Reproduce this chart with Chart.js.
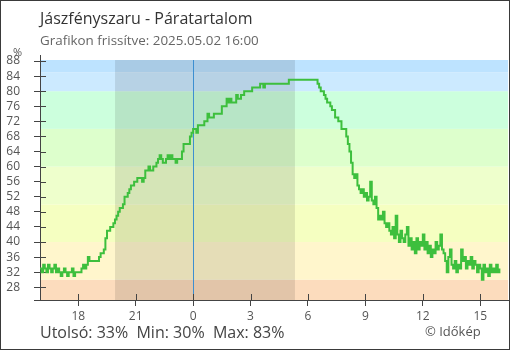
<!DOCTYPE html>
<html lang="hu">
<head>
<meta charset="utf-8">
<title>Jászfényszaru - Páratartalom</title>
<script src="https://cdn.jsdelivr.net/npm/chart.js@4/dist/chart.umd.min.js"></script>
<style>
  html, body { margin: 0; padding: 0; background: #fff; }
  #wrap {
    position: relative; width: 510px; height: 350px; overflow: hidden;
    font-family: "Open Sans", "Noto Sans", sans-serif;
  }
  #frame {
    position: absolute; left: 0; top: 0; width: 510px; height: 350px;
    box-sizing: border-box; border: 1px solid #3a3a3a; pointer-events: none;
  }
  #chart { position: absolute; left: 0; top: 0; }
  .txt { position: absolute; white-space: nowrap; line-height: 1; }
  #title { left: 40px; top: 10px; font-size: 16px; color: #333; }
  #sub { left: 40px; top: 34px; font-size: 13.4px; color: #666; }
  #unit { left: 13px; top: 46px; font-size: 11px; color: #555; }
  #stats { left: 40px; top: 324px; font-size: 16px; color: #444; }
  #copy { left: 425px; top: 325px; font-size: 13px; color: #555; }
</style>
</head>
<body>
<div id="wrap">
  <canvas id="chart" width="510" height="350"></canvas>
  <div class="txt" id="title">Jászfényszaru - Páratartalom</div>
  <div class="txt" id="sub">Grafikon frissítve: 2025.05.02 16:00</div>
  <div class="txt" id="unit">%</div>
  <div class="txt" id="stats"></div>
  <div class="txt" id="copy">© Időkép</div>
  <div id="frame"></div>
</div>
<script>
// Relative humidity (%) every 5 minutes, from 16:00 yesterday to 16:00 today.
// Hours are counted from midnight, so yesterday 16:00 is -8.
const startHour = -8;
const stepMinutes = 5;
const humidity = [
  33,32,34,33,32,34,33,32,33,34,32,33,   // 16:00
  32,31,32,33,32,31,32,32,33,31,32,32,   // 17:00
  32,32,33,34,33,34,36,35,35,35,35,35,   // 18:00
  35,36,37,37,38,41,43,43,44,44,45,46,   // 19:00
  47,48,49,49,50,52,52,53,54,55,55,56,   // 20:00
  56,57,57,57,56,57,59,59,60,59,59,60,   // 21:00
  60,61,62,63,62,61,61,62,63,62,63,62,   // 22:00
  62,61,62,62,62,64,66,66,66,66,68,69,   // 23:00
  70,70,69,71,71,71,71,72,72,74,73,73,   // 00:00
  73,74,74,74,74,74,76,76,76,78,77,78,   // 01:00
  77,77,77,79,78,78,79,79,80,80,80,80,   // 02:00
  80,81,81,81,81,81,82,82,81,82,82,82,   // 03:00
  82,82,82,82,82,82,82,82,82,82,82,82,   // 04:00
  83,83,83,83,83,83,83,83,83,83,83,83,   // 05:00
  83,83,83,83,83,83,82,81,80,80,79,78,   // 06:00
  77,77,76,75,75,73,73,72,72,70,70,70,   // 07:00
  68,66,64,61,58,57,58,55,54,53,54,52,   // 08:00
  53,51,52,56,51,50,52,49,46,47,46,48,   // 09:00
  45,44,45,43,42,44,41,47,42,40,43,41,   // 10:00
  40,42,44,39,41,38,40,37,41,38,40,39,   // 11:00
  42,38,40,37,39,36,38,37,40,38,39,42,   // 12:00
  38,37,35,32,36,38,34,33,35,32,34,33,   // 13:00
  38,35,36,33,35,34,36,33,35,34,32,34,   // 14:00
  33,30,34,32,33,31,34,32,33,32,34,32,   // 15:00
  33                                      // 16:00
];

// Axis ticks
const xTicks = [-6, -3, 0, 3, 6, 9, 12, 15];
const xTickLabels = ['18', '21', '0', '3', '6', '9', '12', '15'];
const yTicks = [28, 32, 36, 40, 44, 48, 52, 56, 60, 64, 68, 72, 76, 80, 84, 88];

// Humidity colour bands: [from %, to %, colour]
const bandFrom = [0, 30, 40, 50, 60, 70, 80, 85];
const bandTo   = [30, 40, 50, 60, 70, 80, 85, 100];
const bandColors = ['#fcdcbd', '#fff6cc', '#f5ffc1', '#eeffcc', '#ddffcc', '#ccffdd', '#cceaff', '#bde3ff'];

// Night (sunset yesterday to sunrise today), in hours from midnight
const nightStart = -4.08;
const nightEnd = 5.32;

const points = humidity.map((v, i) => ({ x: startHour + i * stepMinutes / 60, y: v }));

// Summary line under the chart
const last = humidity[humidity.length - 1];
const minV = Math.min(...humidity);
const maxV = Math.max(...humidity);
document.getElementById('stats').textContent =
  'Utolsó: ' + last + '%\u00a0\u00a0Min: ' + minV + '%\u00a0\u00a0Max: ' + maxV + '%';

const AXIS = '#444';

const backdrop = {
  id: 'backdrop',
  beforeDraw(chart) {
    const { ctx, chartArea: a, scales: { x, y } } = chart;
    ctx.save();
    ctx.beginPath();
    ctx.rect(a.left, a.top, a.right - a.left, a.bottom - a.top);
    ctx.clip();
    for (let i = 0; i < bandColors.length; i++) {
      const top = y.getPixelForValue(bandTo[i]);
      const bot = y.getPixelForValue(bandFrom[i]);
      ctx.fillStyle = bandColors[i];
      ctx.fillRect(a.left, top, a.right - a.left, bot - top);
    }
    const n0 = x.getPixelForValue(nightStart);
    const n1 = x.getPixelForValue(nightEnd);
    ctx.fillStyle = 'rgba(0,0,0,0.1)';
    ctx.fillRect(n0, a.top, n1 - n0, a.bottom - a.top);
    ctx.restore();
  },
  beforeDatasetsDraw(chart) {
    const { ctx, chartArea: a, scales: { x, y } } = chart;
    ctx.save();
    // midnight marker
    const mx = Math.round(x.getPixelForValue(0)) + 0.5;
    ctx.strokeStyle = '#3d8fd1';
    ctx.lineWidth = 1;
    ctx.beginPath();
    ctx.moveTo(mx, a.top);
    ctx.lineTo(mx, a.bottom);
    ctx.stroke();
    // tick marks continue a little into the plot
    ctx.strokeStyle = AXIS;
    ctx.beginPath();
    yTicks.forEach(v => {
      const py = Math.round(y.getPixelForValue(v)) + 0.5;
      ctx.moveTo(a.left, py);
      ctx.lineTo(a.left + 6, py);
    });
    xTicks.forEach(v => {
      const px = Math.round(x.getPixelForValue(v)) + 0.5;
      ctx.moveTo(px, a.bottom);
      ctx.lineTo(px, a.bottom - 6);
    });
    // axis lines run slightly past the plot corner
    const lx = Math.round(a.left) + 0.5;
    ctx.moveTo(lx, a.top);
    ctx.lineTo(lx, a.top - 5);
    const by = Math.round(a.bottom) + 0.5;
    ctx.moveTo(a.left, by);
    ctx.lineTo(a.left - 6, by);
    ctx.stroke();
    ctx.restore();
  }
};

new Chart(document.getElementById('chart'), {
  type: 'line',
  data: {
    datasets: [{
      data: points,
      borderColor: '#3dbf3d',
      borderWidth: 2,
      pointRadius: 0,
      stepped: true,
      fill: false
    }]
  },
  options: {
    responsive: false,
    animation: false,
    events: [],
    layout: { padding: { top: 60, right: 2, left: 0, bottom: 0 } },
    plugins: { legend: { display: false }, tooltip: { enabled: false }, title: { display: false } },
    scales: {
      x: {
        type: 'linear',
        min: -8,
        max: 16.45,
        afterFit(scale) { scale.height = 50; },
        afterBuildTicks(scale) { scale.ticks = xTicks.map(v => ({ value: v })); },
        ticks: {
          autoSkip: false,
          maxRotation: 0,
          padding: 3,
          color: '#555',
          font: { family: 'Open Sans', size: 12 },
          callback: (v, i) => xTickLabels[i]
        },
        grid: { drawOnChartArea: false, drawTicks: true, tickLength: 6, color: AXIS },
        border: { display: true, color: AXIS }
      },
      y: {
        type: 'linear',
        min: 24.63,
        max: 88.27,
        afterFit(scale) { scale.width = 40; },
        afterBuildTicks(scale) { scale.ticks = yTicks.map(v => ({ value: v })); },
        ticks: {
          autoSkip: false,
          padding: 14,
          color: '#555',
          font: { family: 'Open Sans', size: 12 },
          callback: v => String(v)
        },
        grid: { drawOnChartArea: false, drawTicks: true, tickLength: 6, color: AXIS },
        border: { display: true, color: AXIS }
      }
    }
  },
  plugins: [backdrop]
});
</script>
</body>
</html>
